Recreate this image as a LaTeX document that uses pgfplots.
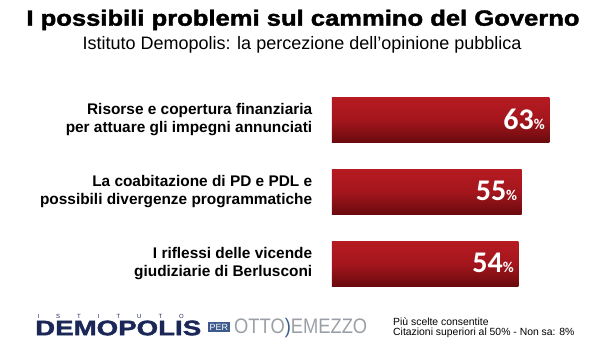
\documentclass[border=0pt]{standalone}
\usepackage{pgfplots}
\pgfplotsset{compat=1.18}
\usepackage{graphicx}
\usepackage{fontspec}
\setmainfont{Liberation Sans}
\newfontfamily\numfont{Carlito}
\newfontfamily\heavyfont{Liberation Sans}[BoldFeatures={FakeBold=1.6}]
\definecolor{barmid}{HTML}{A3161C}
\definecolor{bartop}{HTML}{B51B21}
\definecolor{barbot}{HTML}{6A0A0E}
\definecolor{navy}{HTML}{1B2757}
\definecolor{ottogray}{HTML}{9A9FA6}
\definecolor{perblue}{HTML}{3C5A8C}
\begin{document}
\begin{tikzpicture}[x=1pt,y=1pt]
\path[use as bounding box] (0,0) rectangle (600,358);
% title
\node[inner sep=0] at (303,338) {\resizebox{553pt}{\height}{\heavyfont\bfseries\fontsize{22}{24}\selectfont I possibili problemi sul cammino del Governo}};
\node[font=\fontsize{18}{20}\selectfont, inner sep=0] at (302,313) {Istituto Demopolis: la percezione dell'opinione pubblica};
\begin{axis}[
  at={(332pt,58pt)}, anchor=south west,
  scale only axis, width=268pt, height=216pt,
  xmin=0, xmax=77.7, ymin=-0.5, ymax=2.5,
  xbar, bar width=45pt, bar shift=0pt,
  axis line style={draw=none}, tick style={draw=none},
  xtick=\empty, ytick={0,1,2},
  yticklabels={{I riflessi delle vicende\\giudiziarie di Berlusconi},{La coabitazione di PD e PDL e\\possibili divergenze programmatiche},{Risorse e copertura finanziaria\\per attuare gli impegni annunciati}},
  yticklabel style={align=right, font=\bfseries\fontsize{15.4}{18}\selectfont, xshift=-12pt},
  point meta=x,
  /pgf/number format/assume math mode=true,
  nodes near coords={\pgfmathprintnumber{\pgfplotspointmeta}{\fontsize{15}{15}\selectfont\%}},
  nodes near coords style={anchor=east, font=\numfont\bfseries\fontsize{30}{30}\selectfont, text=white, xshift=-1pt, yshift=1pt},
  every axis plot/.append style={draw=none, top color=bartop, bottom color=barbot, middle color=barmid},
  clip=false,
]
\addplot coordinates {(54,0)};
\addplot coordinates {(55,1)};
\addplot coordinates {(63,2)};
\end{axis}
% footer
\node[font=\fontsize{6}{6}\selectfont, text=navy, anchor=west] at (34,42) {I\hspace{17pt}S\hspace{17pt}T\hspace{17pt}I\hspace{17pt}T\hspace{17pt}U\hspace{17pt}T\hspace{17pt}O};
\node[anchor=west, inner sep=0, text=navy] at (35,30) {\resizebox{166pt}{\height}{\heavyfont\bfseries\fontsize{21}{21}\selectfont DEMOPOLIS}};
\node[font=\fontsize{9}{9}\selectfont, text=white, fill=perblue, anchor=west, inner sep=1.5pt] at (208,31) {PER};
\node[anchor=west, inner sep=0, text=ottogray] at (234,30) {\resizebox{133pt}{\height}{\fontsize{21}{21}\selectfont OTTO\textcolor{perblue}{)}EMEZZO}};
\node[font=\fontsize{10.4}{9.5}\selectfont, align=left, anchor=west, inner sep=0] at (393,30) {Più scelte consentite\\Citazioni superiori al 50\% - Non sa: 8\%};
\end{tikzpicture}
\end{document}
